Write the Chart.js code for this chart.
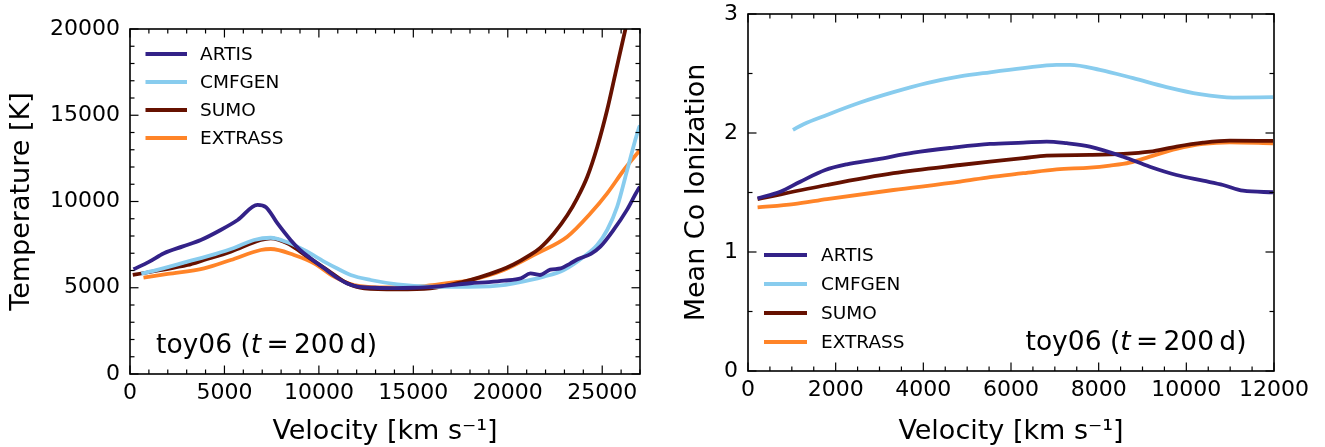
<!DOCTYPE html>
<html>
<head>
<meta charset="utf-8">
<script src="https://cdn.jsdelivr.net/npm/chart.js@4.4.1/dist/chart.umd.min.js"></script>
<style>
  html, body { margin: 0; padding: 0; background: #fff; }
  #wrap { position: relative; width: 1325px; height: 447px; overflow: hidden; }
  #c1 { position: absolute; left: 0; top: 0; }
  #c2 { position: absolute; left: 660px; top: 0; }
</style>
</head>
<body>
<div id="wrap">
  <canvas id="c1" width="660" height="447"></canvas>
  <canvas id="c2" width="665" height="447"></canvas>
</div>
<script>
// ---------- Data ----------
const seriesNames = ['ARTIS', 'CMFGEN', 'SUMO', 'EXTRASS'];
const seriesColors = ['#332288', '#88CCEE', '#661100', '#FF8428'];

// Left panel: Temperature [K] vs velocity [km/s]
const tArtisV   = [185,1000,1800,2800,3750,4800,5700,6750,7200,7800,8500,9000,9500,10000,10500,11000,11500,12000,13000,14000,15000,16000,17000,18000,19000,19800,20700,21200,21700,22250,22800,23300,23700,24400,24900,25600,26300,26900,27000];
const tArtisT   = [6070,6500,7000,7400,7770,8350,8930,9800,9670,8740,7770,7190,6750,6350,5950,5550,5250,5080,5000,4980,5000,5050,5150,5260,5330,5410,5550,5830,5740,6050,6120,6400,6650,6960,7380,8350,9500,10700,10850];
const tCmfgenV  = [600,1500,3042,4500,5500,6566,7450,8300,9212,10450,11000,11683,12741,14153,15915,17000,18561,19500,20324,21910,22968,24026,24733,25264,25794,26323,26936,27000];
const tCmfgenT  = [5820,6050,6510,6950,7300,7768,7900,7650,7188,6416,6100,5739,5449,5198,5060,5050,5060,5120,5256,5642,6029,6800,7478,8348,9700,11826,14245,14400];
const tSumoV    = [148,1500,3042,3921,5333,6921,7450,8333,9392,10450,11508,12400,14150,15900,17680,18500,19440,20300,21100,21700,22440,23150,23680,24210,24740,25260,25700,26230,26500];
const tSumoT    = [5740,6000,6319,6609,7090,7768,7865,7575,6800,6029,5256,4968,4910,4968,5351,5600,5950,6350,6850,7300,8150,9200,10200,11437,13177,15304,17432,20000,21200];
const tExtrassV = [714,2000,3921,5333,6921,7450,8683,9741,10800,11857,13624,15386,17000,18032,19794,21558,23148,24381,25264,26146,27000];
const tExtrassT = [5585,5800,6125,6609,7188,7246,6900,6416,5642,5160,5023,5080,5300,5449,6029,6997,7960,9316,10473,11826,12985];

// Right panel: Mean Co ionization vs velocity [km/s]
const iArtisV   = [219,736,1192,1762,2256,2940,3774,4685,5521,6280,6814,7269,7800,8559,9168,9776,10382,10838,11294,11977];
const iArtisI   = [1.451,1.507,1.591,1.689,1.737,1.779,1.835,1.877,1.908,1.919,1.928,1.914,1.886,1.801,1.717,1.647,1.599,1.563,1.515,1.502];
const iCmfgenV  = [1025,1267,1800,2559,3318,4079,4838,5521,6280,7041,7345,8028,8787,9548,10307,11067,11977];
const iCmfgenI  = [2.026,2.074,2.152,2.256,2.343,2.419,2.475,2.510,2.545,2.573,2.573,2.531,2.461,2.386,2.327,2.298,2.301];
const iSumoV    = [219,1800,3318,4838,5521,6280,6814,7800,8559,9168,9776,10382,10990,11977];
const iSumoI    = [1.445,1.563,1.662,1.731,1.759,1.788,1.810,1.816,1.824,1.843,1.886,1.919,1.936,1.933];
const iExtrassV = [219,1039,1800,3318,4838,5521,6280,7041,7800,8256,8711,9168,9776,10382,10990,11977];
const iExtrassI = [1.375,1.403,1.445,1.521,1.591,1.630,1.662,1.695,1.709,1.726,1.751,1.801,1.866,1.908,1.922,1.914];

// Tick labels
const leftXTicks  = [0,5000,10000,15000,20000,25000];
const leftYTicks  = [0,5000,10000,15000,20000];
const rightXTicks = [0,2000,4000,6000,8000,10000,12000];
const rightYTicks = [0,1,2,3];

const xTitle = 'Velocity [km s\u207B\u00B9]';
const leftYTitle = 'Temperature [K]';
const rightYTitle = 'Mean Co Ionization';

// ---------- Helpers ----------
const FONT = "'DejaVu Sans', sans-serif";
function pts(vs, ys) { return vs.map((v, i) => ({ x: v, y: ys[i] })); }
function makeDatasets(pairs) {
  return pairs.map((p, i) => ({
    label: seriesNames[i],
    data: pts(p[0], p[1]),
    borderColor: seriesColors[i],
    backgroundColor: seriesColors[i],
    borderWidth: 3.8,
    pointRadius: 0,
    pointHoverRadius: 0,
    fill: false,
    tension: 0,
    cubicInterpolationMode: 'monotone',
    clip: 0,
    borderJoinStyle: 'round',
    borderCapStyle: 'butt'
  }));
}

const frameTicks = {
  id: 'frameTicks',
  afterDatasetsDraw(chart, args, o) {
    const { ctx, chartArea: a, scales: { x, y } } = chart;
    ctx.save();
    ctx.strokeStyle = '#000';
    ctx.lineWidth = 1.2;
    const seg = (x1, y1, x2, y2) => { ctx.beginPath(); ctx.moveTo(x1, y1); ctx.lineTo(x2, y2); ctx.stroke(); };
    const isMajor = (v, arr) => arr.some(t => Math.abs(t - v) < 1e-9);
    for (let k = 0; ; k++) {
      const v = x.min + k * o.xMinor;
      if (v > x.max + 1e-9) break;
      const len = isMajor(v, o.xMajor) ? 8.5 : 4.5;
      const px = x.getPixelForValue(v);
      seg(px, a.bottom, px, a.bottom - len);
      seg(px, a.top, px, a.top + len);
    }
    for (let k = 0; ; k++) {
      const v = y.min + k * o.yMinor;
      if (v > y.max + 1e-9) break;
      const len = isMajor(v, o.yMajor) ? 8.5 : 4.5;
      const py = y.getPixelForValue(v);
      seg(a.left, py, a.left + len, py);
      seg(a.right, py, a.right - len, py);
    }
    ctx.lineWidth = 1.6;
    ctx.strokeRect(a.left, a.top, a.right - a.left, a.bottom - a.top);
    ctx.restore();
  },
  afterDraw(chart, args, o) {
    const { ctx, chartArea: a } = chart;
    ctx.save();
    // legend
    chart.data.datasets.forEach((ds, i) => {
      const yy = a.top + o.legTop + i * o.legGap;
      ctx.strokeStyle = ds.borderColor;
      ctx.lineWidth = 3.8;
      ctx.beginPath();
      ctx.moveTo(a.left + o.legX0, yy);
      ctx.lineTo(a.left + o.legX1, yy);
      ctx.stroke();
      ctx.fillStyle = '#000';
      ctx.font = '18.5px ' + FONT;
      ctx.textBaseline = 'middle';
      ctx.textAlign = 'left';
      ctx.fillText(ds.label, a.left + o.legText, yy + 1);
    });
    // annotation "toy06 (t = 200 d)"
    const parts = [
      ['toy06 (', 'normal'], ['t', 'italic'], ['\u2009=\u2009', 'normal'], ['200\u2009d)', 'normal']
    ];
    const fs = 26.5;
    ctx.textBaseline = 'alphabetic';
    ctx.textAlign = 'left';
    ctx.fillStyle = '#000';
    let total = 0;
    const widths = parts.map(p => { ctx.font = (p[1] === 'italic' ? 'italic ' : '') + fs + 'px ' + FONT; const w = ctx.measureText(p[0]).width; total += w; return w; });
    let xx = o.annAlign === 'left' ? a.left + o.annX : a.right - o.annX - total;
    const by = a.bottom - o.annBottom;
    parts.forEach((p, i) => {
      ctx.font = (p[1] === 'italic' ? 'italic ' : '') + fs + 'px ' + FONT;
      ctx.fillText(p[0], xx, by);
      xx += widths[i];
    });
    ctx.restore();
  }
};

function makeChart(canvas, datasets, cfg) {
  return new Chart(canvas, {
    type: 'line',
    data: { datasets },
    plugins: [frameTicks],
    options: {
      responsive: false,
      animation: false,
      events: [],
      layout: { padding: cfg.padding },
      plugins: {
        legend: { display: false },
        tooltip: { enabled: false },
        frameTicks: cfg.frame
      },
      scales: {
        x: {
          type: 'linear',
          min: cfg.xMin, max: cfg.xMax,
          grid: { display: false, drawTicks: false },
          border: { display: false },
          afterBuildTicks: s => { s.ticks = cfg.xTicks.map(v => ({ value: v })); },
          afterFit: s => { s.height = cfg.xHeight; s.paddingLeft = 0; s.paddingRight = 0; },
          ticks: {
            autoSkip: false, maxRotation: 0, minRotation: 0, includeBounds: false,
            padding: 6, color: '#000',
            font: { family: FONT, size: 22 },
            callback: v => String(v)
          },
          title: {
            display: true, text: xTitle, color: '#000',
            font: { family: FONT, size: 27, lineHeight: 1.12 },
            padding: { top: 0, bottom: 0 }
          }
        },
        y: {
          type: 'linear',
          min: cfg.yMin, max: cfg.yMax,
          grid: { display: false, drawTicks: false },
          border: { display: false },
          afterBuildTicks: s => { s.ticks = cfg.yTicks.map(v => ({ value: v })); },
          afterFit: s => { s.width = cfg.yWidth; s.paddingTop = 0; s.paddingBottom = 0; },
          ticks: {
            autoSkip: false, padding: 10, color: '#000',
            font: { family: FONT, size: 22 },
            callback: v => String(v)
          },
          title: {
            display: true, text: cfg.yTitle, color: '#000',
            font: { family: FONT, size: 27 },
            padding: { top: cfg.yTitlePad, bottom: 0 }
          }
        }
      }
    }
  });
}

makeChart(document.getElementById('c1'),
  makeDatasets([[tArtisV, tArtisT], [tCmfgenV, tCmfgenT], [tSumoV, tSumoT], [tExtrassV, tExtrassT]]),
  {
    padding: { left: 0, right: 20, top: 29, bottom: 0 },
    xMin: 0, xMax: 27000, yMin: 0, yMax: 20000,
    xTicks: leftXTicks, yTicks: leftYTicks,
    xHeight: 73, yWidth: 130, yTitle: leftYTitle, yTitlePad: 6,
    frame: {
      xMinor: 1000, yMinor: 1000, xMajor: leftXTicks, yMajor: leftYTicks,
      legTop: 25, legGap: 28, legX0: 15.5, legX1: 57, legText: 70,
      annAlign: 'left', annX: 26, annBottom: 21
    }
  });

makeChart(document.getElementById('c2'),
  makeDatasets([[iArtisV, iArtisI], [iCmfgenV, iCmfgenI], [iSumoV, iSumoI], [iExtrassV, iExtrassI]]),
  {
    padding: { left: 0, right: 51, top: 14, bottom: 0 },
    xMin: 0, xMax: 12000, yMin: 0, yMax: 3,
    xTicks: rightXTicks, yTicks: rightYTicks,
    xHeight: 76, yWidth: 88, yTitle: rightYTitle, yTitlePad: 21,
    frame: {
      xMinor: 500, yMinor: 0.5, xMajor: rightXTicks, yMajor: rightYTicks,
      legTop: 241, legGap: 29, legX0: 16, legX1: 59, legText: 73,
      annAlign: 'right', annX: 27.5, annBottom: 21
    }
  });
</script>
</body>
</html>
